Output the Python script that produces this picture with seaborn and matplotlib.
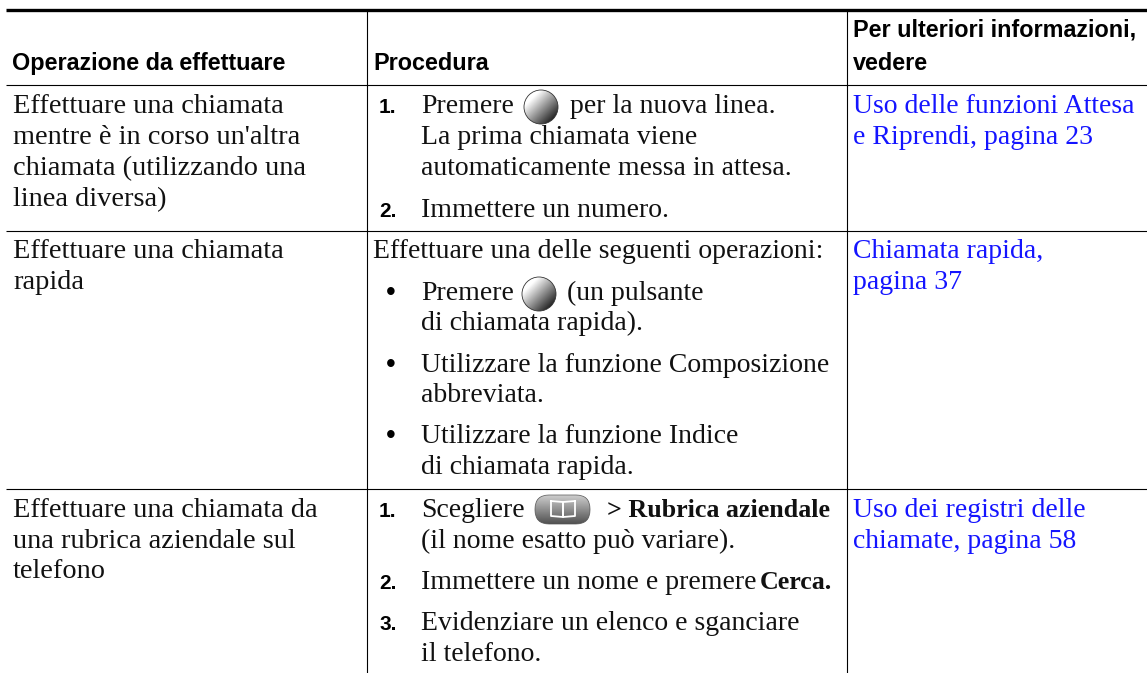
import numpy as np
import matplotlib
matplotlib.use("Agg")
import matplotlib.pyplot as plt
from matplotlib.patches import Circle, FancyBboxPatch
import seaborn as sns

W, H = 1147, 673
SERIF = "Liberation Serif"
HEAD = ["Liberation Sans"]
SIZE = 20.0
SIZE_COL1 = 20.4
SIZE_BOLD = 18.7
BLUE = "#1414ff"

# text content: (x, baseline y, string)
header = [(12, 70, "Operazione da effettuare"), (373, 70, "Procedura"),
          (853, 37, "Per ulteriori informazioni,"), (853, 70, "vedere")]
col1 = [(13, 113, "Effettuare una chiamata"), (13, 144, "mentre è in corso un'altra"),
        (13, 175, "chiamata (utilizzando una"), (13, 206, "linea diversa)"),
        (13, 258, "Effettuare una chiamata"), (13, 289, "rapida"),
        (13, 517, "Effettuare una chiamata da"), (13, 548, "una rubrica aziendale sul"),
        (13, 578, "telefono")]
col2 = [(421, 113, "Premere"), (570, 113, "per la nuova linea."),
        (421, 144, "La prima chiamata viene"), (421, 175, "automaticamente messa in attesa."),
        (421, 217, "Immettere un numero."),
        (373, 258, "Effettuare una delle seguenti operazioni:"),
        (421, 300, "Premere"), (567, 300, "(un pulsante"), (421, 330, "di chiamata rapida)."),
        (421, 372, "Utilizzare la funzione Composizione"), (421, 402, "abbreviata."),
        (421, 443, "Utilizzare la funzione Indice"), (421, 474, "di chiamata rapida."),
        (421, 517, "Scegliere"), (421, 548, "(il nome esatto può variare)."),
        (421, 589, "Immettere un nome e premere"), (421, 630, "Evidenziare un elenco e sganciare"),
        (421, 661, "il telefono.")]
bold_inline = [(607, 517, "> Rubrica aziendale"), (760, 589, "Cerca.")]
numbers = [(379, 113, "1."), (379, 217, "2."), (379, 517, "1."), (379, 589, "2."), (379, 630, "3.")]
bullets = [(386, 300), (386, 372), (386, 443)]
links = [(853, 113, "Uso delle funzioni Attesa"), (853, 144, "e Riprendi, pagina 23"),
         (853, 258, "Chiamata rapida,"), (853, 289, "pagina 37"),
         (853, 517, "Uso dei registri delle"), (853, 548, "chiamate, pagina 58")]

# rules
h_rules_y = [85, 231, 489]
v_rules_x = [367, 847]
top_rule_y = 9.5
left_x, right_x = 6, 1147
spheres = [(541, 107), (539, 294)]
pill = (527, 494, 71, 31)

sns.set_theme(style="white", rc={"axes.facecolor": "white", "figure.facecolor": "white"})
fig = plt.figure(figsize=(W / 100, H / 100), dpi=100)
ax = fig.add_axes([0, 0, 1, 1])
ax.set_axis_off()
ax.set_xlim(0, W)
ax.set_ylim(H, 0)


def rule(xs, ys, lw):
    sns.lineplot(x=xs, y=ys, ax=ax, color="black", linewidth=lw, estimator=None,
                 sort=False, legend=False, solid_capstyle="butt")


rule([left_x, right_x], [top_rule_y, top_rule_y], 2.4)
for y in h_rules_y:
    rule([left_x, right_x], [y, y], 0.8)
for x in v_rules_x:
    rule([x, x], [top_rule_y, H], 0.8)
ax.set_xlim(0, W)
ax.set_ylim(H, 0)

for x, y, s in header:
    ax.text(x, y, s, family=HEAD, weight="bold", fontsize=16.8, color="black", va="baseline")
for x, y, s in col1:
    ax.text(x, y, s, family=SERIF, fontsize=SIZE_COL1, color="#111111", va="baseline")
for x, y, s in col2:
    ax.text(x, y, s, family=SERIF, fontsize=SIZE, color="#111111", va="baseline")
for x, y, s in bold_inline:
    ax.text(x, y, s, family=SERIF, weight="bold", fontsize=SIZE_BOLD, color="#111111", va="baseline")
for x, y, s in numbers:
    ax.text(x, y, s, family=HEAD, weight="bold", fontsize=15, color="black", va="baseline")
for x, y in bullets:
    ax.text(x, y, "•", family="Liberation Sans", fontsize=SIZE, color="black", va="baseline")
for x, y, s in links:
    ax.text(x, y, s, family=SERIF, fontsize=SIZE, color=BLUE, va="baseline")

# gradient icons
yy, xx = np.mgrid[-1:1:80j, -1:1:80j]
shade = np.clip(1.05 - 0.55 * (xx + yy + 1.2) / 1.6, 0.08, 1)
for cx, cy in spheres:
    r = 17
    im = ax.imshow(shade, cmap="gray", vmin=0, vmax=1, extent=[cx - r, cx + r, cy + r, cy - r],
                   zorder=3, aspect="auto")
    c = Circle((cx, cy), r, fc="none", ec="#333333", lw=0.6, zorder=4)
    ax.add_patch(c)
    im.set_clip_path(c)

px, py, pw, ph = pill
grad = np.linspace(0.82, 0.3, 60).reshape(-1, 1)
im = ax.imshow(grad, cmap="gray", vmin=0, vmax=1, extent=[px, px + pw, py + ph, py], zorder=3, aspect="auto")
p = FancyBboxPatch((px + 8, py + 1), pw - 16, ph - 2, boxstyle="round,pad=0,rounding_size=14",
                   fc="none", ec="#555555", lw=0.5, zorder=4, mutation_aspect=1)
ax.add_patch(p)
im.set_clip_path(p)
ax.plot([px + 24, px + 36, px + 36, px + 24, px + 24], [py + 7, py + 8, py + 23, py + 22, py + 7],
        color="white", lw=1.3, zorder=5)
ax.plot([px + 48, px + 36, px + 36, px + 48, px + 48], [py + 7, py + 8, py + 23, py + 22, py + 7],
        color="white", lw=1.3, zorder=5)
ax.set_xlim(0, W)
ax.set_ylim(H, 0)

fig.savefig("out.png", dpi=100, facecolor="white")
